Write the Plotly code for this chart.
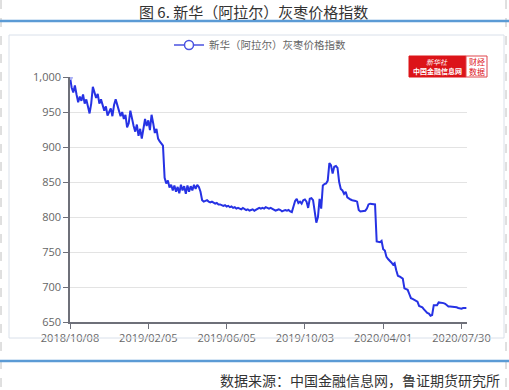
import plotly.graph_objects as go

# ---------------- data ----------------
tick_labels = ["2018/10/08", "2019/02/05", "2019/06/05", "2019/10/03", "2020/04/01", "2020/07/30"]
points_per_label = 48  # categories between labelled dates

index_values = [
    # 2018/10 - 2019/02
    1000, 985, 978, 988, 975, 964, 972, 966, 975, 962,
    968, 956, 948, 962, 986, 978, 970, 976, 962, 968,
    960, 952, 958, 945, 950, 955, 944, 960, 968, 958,
    952, 944, 950, 940, 946, 928, 934, 952, 940, 930,
    922, 932, 916, 926, 912, 928, 940, 930, 938, 924,
    946, 934, 920, 926, 912, 908, 905, 902,
    # 2019/02 - 2019/04
    856, 848, 852, 842, 846, 838, 845, 836, 843, 834,
    846, 838, 844, 833, 845, 836, 844, 838, 846, 840,
    846, 843, 836, 824, 822,
    # 2019/04 - 2019/09
    823, 824, 822, 821, 822, 820, 819, 820, 818, 818,
    817, 816, 817, 815, 816, 814, 815, 813, 814, 812,
    813, 812, 811, 813, 812, 810, 811, 809, 810, 811,
    809, 810, 811, 813, 812, 813, 812, 814, 813, 812,
    813, 812, 811, 809, 810, 811, 810, 808, 809, 810,
    809, 810, 808, 807,
    # 2019/09 - 2020/03
    815, 823, 826, 820, 822, 819, 824, 825, 822, 813,
    826, 827, 824, 810, 792, 800, 826, 812, 845, 847,
    848, 852, 877, 874, 862, 872, 873, 870, 850, 840,
    838, 833, 836, 828, 826, 825, 824, 824, 823, 822,
    810, 808, 808, 808, 809, 812, 818, 819, 819, 819,
    818, 765,
    # 2020/03 - 2020/07
    764, 764, 766, 754, 752, 743, 740, 738, 735, 732,
    734, 724, 716, 715, 714, 712, 698, 697, 696, 690,
    684, 683, 682, 680, 679, 673, 672, 671, 668, 665,
    663, 662, 659, 660, 674, 674, 674, 678, 678, 677,
    677, 676, 674, 672, 672, 672, 672, 672, 671, 670,
    669, 669, 670, 670, 670,
]
series_name = "新华（阿拉尔）灰枣价格指数"
title_text = "图 6. 新华（阿拉尔）灰枣价格指数"
source_text = "数据来源：中国金融信息网，鲁证期货研究所"
y_ticks = [650, 700, 750, 800, 850, 900, 950, 1000]

# ---------------- figure ----------------
W, H = 509, 390
L, R, T, B = 70, 467, 77, 322
x_idx = list(range(len(index_values)))
tick_pos = [i * points_per_label for i in range(len(tick_labels))]
last_tick_px = 461.5
x_max = (R - L) * (tick_pos[-1] - tick_pos[0]) / (last_tick_px - L)

def px(xp):
    return (xp - L) / (R - L)

def py(yp):
    return (B - yp) / (B - T)

FONT = "Noto Sans CJK SC, Microsoft YaHei, sans-serif"
LINE_COLOR = "#2632e4"

fig = go.Figure()
fig.add_trace(go.Scatter(
    x=x_idx, y=index_values, mode="lines", name=series_name,
    line=dict(color=LINE_COLOR, width=2), showlegend=False,
    hoverinfo="skip",
))
fig.add_trace(go.Scatter(
    x=x_idx[:1], y=index_values[:1], mode="markers", showlegend=False,
    marker=dict(symbol="circle", size=6, color="#aab0f5", line=dict(width=0)),
    hoverinfo="skip",
))
fig.add_trace(go.Scatter(
    x=[None], y=[None], mode="lines+markers", name=series_name,
    line=dict(color="#4a52e0", width=1.5),
    marker=dict(symbol="circle", size=9, color="white", line=dict(color="#4a52e0", width=1.5)),
))

fig.update_layout(
    width=W, height=H,
    margin=dict(l=L, r=W - R, t=T, b=H - B, pad=0, autoexpand=False),
    paper_bgcolor="white", plot_bgcolor="white",
    font=dict(family=FONT, size=11, color="#666"),
    showlegend=True,
    legend=dict(orientation="h", x=px(260), y=py(45), xanchor="center", yanchor="middle",
                font=dict(size=10.5, color="#666"), bgcolor="rgba(0,0,0,0)",
                itemwidth=30),
    xaxis=dict(
        range=[0, x_max],
        tickmode="array", tickvals=tick_pos, ticktext=tick_labels, tickangle=0,
        showgrid=False, zeroline=False, showline=True, linecolor="#6e7079", linewidth=1.5,
        ticks="outside", ticklen=5, tickcolor="#6e7079",
        tickfont=dict(size=11, color="#666", family="Open Sans, sans-serif"),
    ),
    yaxis=dict(
        range=[650, 1000], tickmode="array", tickvals=y_ticks,
        tickformat=",d", showgrid=True, gridcolor="#e3e3e3", gridwidth=1.2,
        zeroline=False, showline=True, linecolor="#6e7079", linewidth=1.5,
        ticks="outside", ticklen=5, tickcolor="#6e7079",
        tickfont=dict(size=11, color="#666", family="Open Sans, sans-serif"),
    ),
)

shapes = []
for xx in [1, 506]:
    shapes.append(dict(type="line", xref="paper", yref="paper", x0=px(xx), x1=px(xx), y0=py(0), y1=py(H),
                       line=dict(color="#c0c0c0", width=1, dash="dash")))
for yy in [21, 361]:
    shapes.append(dict(type="line", xref="paper", yref="paper", x0=px(0), x1=px(W), y0=py(yy), y1=py(yy),
                       line=dict(color="#5b9bd5", width=2.5)))
shapes.append(dict(type="rect", xref="paper", yref="paper", x0=px(9), x1=px(504), y0=py(338), y1=py(35),
                   line=dict(color="#d9e0ea", width=1)))
shapes.append(dict(type="rect", xref="paper", yref="paper", x0=px(409), x1=px(466), y0=py(77), y1=py(56),
                   fillcolor="#dc1419", line=dict(color="#dc1419", width=1)))
shapes.append(dict(type="rect", xref="paper", yref="paper", x0=px(466), x1=px(487), y0=py(77), y1=py(56),
                   fillcolor="white", line=dict(color="#e0454a", width=1)))
fig.update_layout(shapes=shapes)

ann = [
    dict(text=title_text, x=px(253), y=py(11), font=dict(size=15, color="#333", family=FONT)),
    dict(text=source_text, x=px(502), y=py(380), xanchor="right", font=dict(size=14, color="#333", family=FONT)),
    dict(text="<i>新华社</i>", x=px(437), y=py(62), font=dict(size=7, color="white", family=FONT)),
    dict(text="<b>中国金融信息网</b>", x=px(437.5), y=py(71.5), font=dict(size=7, color="white", family=FONT)),
    dict(text="财经<br>数据", x=px(476.5), y=py(66.5), font=dict(size=8, color="#dc1419", family=FONT)),
]
for a in ann:
    a.setdefault("xanchor", "center")
    a.update(xref="paper", yref="paper", yanchor="middle", showarrow=False)
fig.update_layout(annotations=ann)

fig.write_html("out.html", config={"displayModeBar": False},
               post_script="document.body.style.margin='0';document.body.style.overflow='hidden';")
